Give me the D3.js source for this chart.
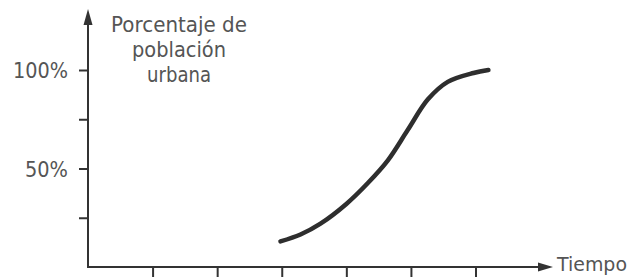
<!DOCTYPE html>
<html><head><meta charset="utf-8">
<script src="https://cdn.jsdelivr.net/npm/d3@7"></script>
<style>
html,body{margin:0;padding:0;background:#fff;}
svg{display:block;}
text{font-family:"DejaVu Sans",sans-serif;fill:#555;}
</style></head>
<body>
<script>
// Data (time in tick units, % urban population)
const time = [2.98, 3.29, 3.6, 4.0, 4.33, 4.64, 4.95, 5.26, 5.57, 5.97, 6.2];
const urbanPct = [13, 16.5, 22, 32, 42.5, 54, 69.5, 85, 94, 98.5, 100];
const yTicks = [25, 50, 75, 100];
const yTickLabels = {50: "50%", 100: "100%"};
const xTicks = [1, 2, 3, 4, 5, 6];
const yTitle = ["Porcentaje de", "población", "urbana"];
const xTitle = "Tiempo";

const W = 632, H = 277;
const svg = d3.select("body").append("svg").attr("width", W).attr("height", H);

const x = d3.scaleLinear().domain([0, 7.2]).range([88, 553]);
const y = d3.scaleLinear().domain([0, 100]).range([267, 70]);
const ink = "#333";

// Y axis
const gy = svg.append("g").attr("transform", `translate(${x(0)},0)`)
  .call(d3.axisLeft(y).tickValues(yTicks).tickSize(9).tickPadding(11)
    .tickFormat(d => yTickLabels[d] || ""));
gy.select(".domain").remove();
gy.selectAll(".tick line").attr("stroke", ink).attr("stroke-width", 2);
gy.selectAll(".tick text").style("font-size", "21px").attr("fill", "#555")
  .attr("dy", "0.36em")
  .attr("textLength", d => d === 100 ? 55 : 43).attr("lengthAdjust", "spacingAndGlyphs");

// X axis
const gx = svg.append("g").attr("transform", `translate(0,${y(0)})`)
  .call(d3.axisBottom(x).tickValues(xTicks).tickSize(11).tickFormat(""));
gx.select(".domain").remove();
gx.selectAll(".tick line").attr("stroke", ink).attr("stroke-width", 2);

// Axis lines with arrows
svg.append("line").attr("x1", x(0)).attr("x2", x(0)).attr("y1", y(0) + 1).attr("y2", 20)
  .attr("stroke", ink).attr("stroke-width", 2);
svg.append("path").attr("d", `M${x(0)},9 L${x(0)-4.5},25 L${x(0)+4.5},25 Z`).attr("fill", ink);
svg.append("line").attr("x1", x(0) - 1).attr("x2", x(7.2) - 8).attr("y1", y(0)).attr("y2", y(0))
  .attr("stroke", ink).attr("stroke-width", 2);
svg.append("path").attr("d", `M${x(7.2)},${y(0)} L${x(7.2)-15},${y(0)-4.5} L${x(7.2)-15},${y(0)+4.5} Z`).attr("fill", ink);

// Titles
svg.append("text").attr("x", x(7.2) + 4).attr("y", y(0) + 4)
  .style("font-size", "20px").attr("textLength", 70).attr("lengthAdjust", "spacingAndGlyphs")
  .text(xTitle);
const titleW = [136, 94, 64];
svg.append("g").selectAll("text").data(yTitle).join("text")
  .attr("text-anchor", "middle").attr("x", 179).attr("y", (d, i) => 32 + i * 25)
  .style("font-size", "22px")
  .attr("textLength", (d, i) => titleW[i]).attr("lengthAdjust", "spacingAndGlyphs")
  .text(d => d);

// Curve
const pts = time.map((t, i) => [t, urbanPct[i]]);
svg.append("path").datum(pts)
  .attr("d", d3.line().x(d => x(d[0])).y(d => y(d[1])).curve(d3.curveCatmullRom))
  .attr("fill", "none").attr("stroke", "#2e2e2e").attr("stroke-width", 4.5)
  .attr("stroke-linecap", "round");
</script>
</body></html>
